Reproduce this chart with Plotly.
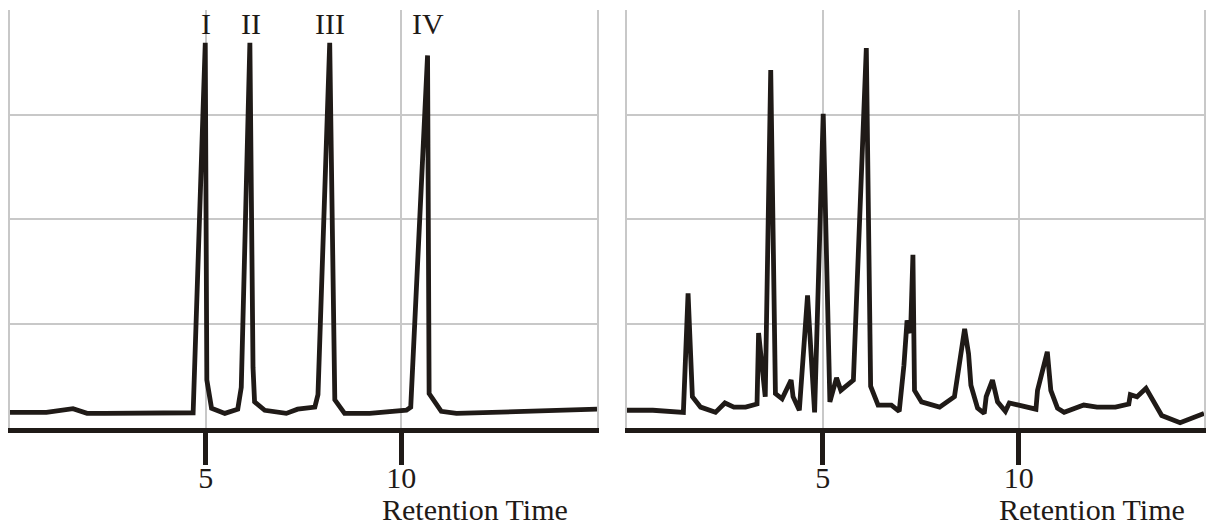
import plotly.graph_objects as go

# ---- data ----
left_time = [0.0, 0.93, 1.61, 1.97, 2.42, 3.10, 4.03, 4.68, 4.99, 5.03, 5.15, 5.49, 5.82, 5.91,
             6.13, 6.21, 6.25, 6.51, 7.06, 7.35, 7.79, 7.87, 8.17, 8.30, 8.55, 9.19, 10.13,
             10.24, 10.67, 10.71, 11.02, 11.41, 15.0]
left_signal = [0.15, 0.15, 0.185, 0.14, 0.14, 0.14, 0.14, 0.146, 3.69, 0.46, 0.19, 0.14, 0.18, 0.39,
               3.69, 0.58, 0.25, 0.17, 0.14, 0.18, 0.20, 0.32, 3.69, 0.27, 0.14, 0.14, 0.17,
               0.20, 3.57, 0.33, 0.16, 0.14, 0.18]

right_time = [0.0, 0.66, 1.44, 1.56, 1.67, 1.88, 2.26, 2.50, 2.73, 3.03, 3.32, 3.36, 3.53, 3.67,
              3.79, 3.96, 4.19, 4.24, 4.40, 4.61, 4.79, 5.01, 5.18, 5.35, 5.46, 5.78, 6.11,
              6.22, 6.41, 6.75, 6.95, 7.07, 7.15, 7.24, 7.30, 7.34, 7.52, 7.98, 8.36, 8.62,
              8.72, 8.78, 8.95, 9.12, 9.17, 9.33, 9.46, 9.66, 9.76, 10.44, 10.48, 10.73, 10.82,
              10.99, 11.16, 11.66, 12.00, 12.47, 12.81, 12.85, 13.02, 13.25, 13.65, 14.12, 14.73]
right_signal = [0.17, 0.17, 0.15, 1.29, 0.30, 0.20, 0.15, 0.24, 0.20, 0.20, 0.23, 0.91, 0.30, 3.43,
                0.33, 0.28, 0.46, 0.30, 0.17, 1.27, 0.15, 3.01, 0.25, 0.48, 0.36, 0.46, 3.64,
                0.40, 0.22, 0.22, 0.16, 0.60, 1.03, 0.91, 1.66, 0.36, 0.25, 0.20, 0.30, 0.95,
                0.71, 0.41, 0.19, 0.14, 0.30, 0.46, 0.25, 0.16, 0.24, 0.18, 0.36, 0.73, 0.36,
                0.19, 0.15, 0.22, 0.20, 0.20, 0.23, 0.32, 0.30, 0.38, 0.12, 0.05, 0.14]

peak_labels = ["I", "II", "III", "IV"]
peak_label_time = [5.0, 6.15, 8.17, 10.67]
x_ticks = [5, 10]
x_tick_text = ["5", "10"]
grid_levels = [1, 2, 3, 4]
axis_title = "Retention Time"

# ---- style ----
INK = "#1f1a17"
GRID = "#c8c8c8"
FONT = "Liberation Serif"
W, H = 1206, 524

fig = go.Figure()
fig.add_trace(go.Scatter(x=left_time, y=left_signal, mode="lines",
                         line=dict(color=INK, width=4.8), xaxis="x", yaxis="y",
                         showlegend=False, hoverinfo="skip"))
fig.add_trace(go.Scatter(x=right_time, y=right_signal, mode="lines",
                         line=dict(color=INK, width=4.8), xaxis="x2", yaxis="y2",
                         showlegend=False, hoverinfo="skip"))

xcommon = dict(tickmode="array", tickvals=x_ticks, ticktext=x_tick_text,
               ticks="outside", ticklen=32, tickwidth=4.5, tickcolor=INK,
               ticklabelstandoff=-13,
               showgrid=True, gridcolor=GRID, gridwidth=1.5,
               showline=True, linecolor=INK, linewidth=4.5,
               zeroline=False, tickfont=dict(family=FONT, size=30, color=INK),
               fixedrange=True)
ycommon = dict(tickmode="array", tickvals=grid_levels, showticklabels=False,
               showgrid=True, gridcolor=GRID, gridwidth=1.5,
               showline=True, linecolor=GRID, linewidth=1.5, mirror=True,
               zeroline=False, range=[0, 4.005], ticks="", fixedrange=True)

fig.update_layout(
    width=W, height=H,
    margin=dict(l=0, r=0, t=10, b=96),
    paper_bgcolor="white", plot_bgcolor="white",
    xaxis=dict(domain=[10 / W, 598 / W], range=[0, 15], anchor="y", **xcommon),
    yaxis=dict(domain=[0, 1], anchor="x", **ycommon),
    xaxis2=dict(domain=[628 / W, 1.0], range=[0, 14.73], anchor="y2", **xcommon),
    yaxis2=dict(domain=[0, 1], anchor="x2", **ycommon),
)

for lab, t in zip(peak_labels, peak_label_time):
    fig.add_annotation(x=t, y=3.88, xref="x", yref="y", text=lab, showarrow=False,
                       font=dict(family=FONT, size=30, color=INK),
                       xanchor="center", yanchor="middle")

for xr in ["x", "x2"]:
    fig.add_annotation(x=11.87, y=-0.196, xref=xr, yref="paper", text=axis_title,
                       showarrow=False, font=dict(family=FONT, size=30, color=INK),
                       xanchor="center", yanchor="middle")

fig.write_html("out.html", config={"displayModeBar": False},
               post_script="document.body.style.margin='0';")
